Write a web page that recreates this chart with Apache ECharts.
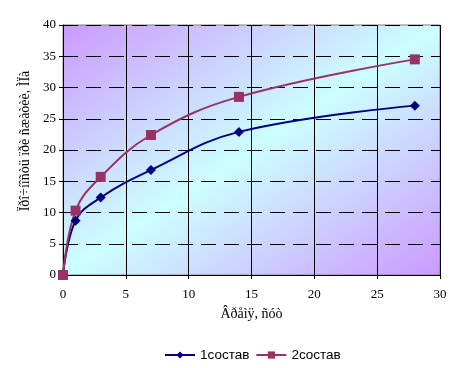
<!DOCTYPE html>
<html><head><meta charset="utf-8">
<script src="https://cdn.jsdelivr.net/npm/echarts@6/dist/echarts.min.js"></script>
<style>html,body{margin:0;padding:0;background:#fff}#c{width:462px;height:368px}</style>
</head><body><div id="c"></div>
<script>
const days = [0, 1, 3, 7, 14, 28];
const series1 = [0, 8.7, 12.4, 16.8, 22.9, 27.1];
const series2 = [0, 10.3, 15.7, 22.4, 28.5, 34.5];
const seriesNames = ['1состав', '2состав'];
const xTitle = 'Âðåìÿ, ñóò';
const yTitle = 'Ïðî÷íîñòü ïðè ñæàòèè, ÌÏà';

const chart = echarts.init(document.getElementById('c'));
const toPairs = (ys) => days.map((d, i) => [d, ys[i]]);
const G = {left: 63, top: 25, width: 377, height: 250};
// diagonal gradient whose isolines run parallel to the bottom-left/top-right diagonal
const L = Math.hypot(G.width, G.height);
const proj = (2 * G.width * G.height) / L;
const ux = G.height / L, uy = G.width / L;
chart.setOption({
  animation: false,
  grid: {
    left: G.left, top: G.top, width: G.width, height: G.height, show: true,
    borderColor: '#808080', borderWidth: 1,
    backgroundColor: new echarts.graphic.LinearGradient(
      G.left, G.top, G.left + proj * ux, G.top + proj * uy, [
      {offset: 0, color: '#cc99ff'},
      {offset: 0.5, color: '#ccffff'},
      {offset: 1, color: '#cc99ff'}
    ], true)
  },
  xAxis: {
    type: 'value', min: 0, max: 30, interval: 5,
    name: xTitle, nameLocation: 'middle', nameGap: 32,
    nameTextStyle: {fontFamily: 'Liberation Serif', fontSize: 14, color: '#000'},
    axisLine: {show: true, lineStyle: {color: '#000'}},
    axisTick: {show: true, length: 4, lineStyle: {color: '#000'}},
    axisLabel: {fontFamily: 'Liberation Serif', fontSize: 13, color: '#000', margin: 13},
    splitLine: {show: true, lineStyle: {color: '#000', type: 'solid', width: 1}}
  },
  yAxis: {
    type: 'value', min: 0, max: 40, interval: 5,
    name: yTitle, nameLocation: 'middle', nameGap: 15,
    nameTextStyle: {fontFamily: 'Liberation Serif', fontSize: 14, color: '#000', padding: [0, 0, 0, 18]},
    axisLine: {show: true, lineStyle: {color: '#000'}},
    axisTick: {show: true, length: 4, lineStyle: {color: '#000'}},
    axisLabel: {fontFamily: 'Liberation Serif', fontSize: 13, color: '#000', margin: 7},
    splitLine: {show: true, lineStyle: {color: '#000', type: [15, 8], width: 1}}
  },
  legend: {
    top: 343, left: 159, itemWidth: 30, itemHeight: 9, itemGap: 6,
    textStyle: {fontFamily: 'Liberation Sans', fontSize: 13.5, color: '#000'},
    data: seriesNames
  },
  series: [
    {
      name: seriesNames[0], type: 'line', data: toPairs(series1), smooth: 0.4,
      symbol: 'diamond', symbolSize: 10,
      itemStyle: {color: '#000080'}, lineStyle: {color: '#000080', width: 2}
    },
    {
      name: seriesNames[1], type: 'line', data: toPairs(series2), smooth: 0.4,
      symbol: 'rect', symbolSize: 10,
      itemStyle: {color: '#993366'}, lineStyle: {color: '#993366', width: 2}
    }
  ]
});
</script></body></html>
